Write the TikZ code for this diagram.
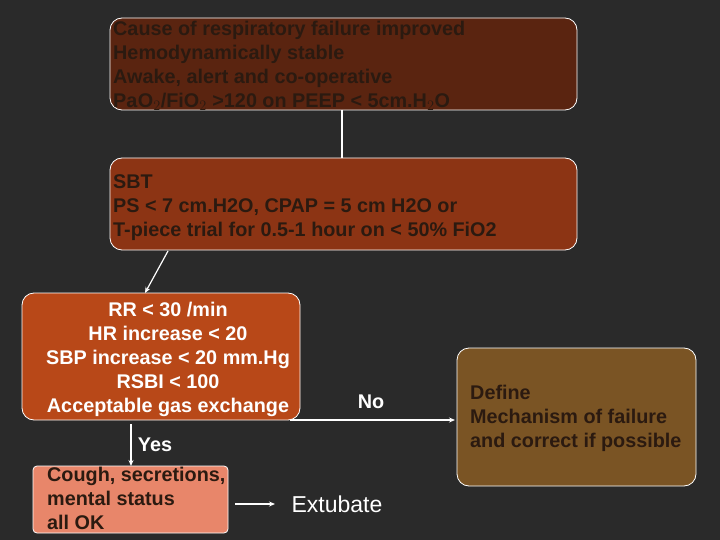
\documentclass[tikz,border=0pt]{standalone}
\usepackage{fontspec}
\setmainfont{Liberation Sans}
\usetikzlibrary{arrows.meta}
\definecolor{bg}{HTML}{2A2A2A}
\definecolor{c1}{HTML}{5A2410}
\definecolor{c2}{HTML}{8C3414}
\definecolor{c3}{HTML}{B84818}
\definecolor{c4}{HTML}{7A5424}
\definecolor{c5}{HTML}{E8866A}
\definecolor{dk}{HTML}{2B1A10}
\tikzset{
 box/.style={draw=white, line width=0.8pt, rounded corners=12pt, inner sep=3pt},
 txt/.style={font=\bfseries\fontsize{19.8}{24}\selectfont, text=dk, align=left, inner sep=0pt},
 conn/.style={draw=white, line width=1.2pt},
 arr/.style={conn, -{Stealth[length=6pt,width=5pt]}}
}
\begin{document}
\begin{tikzpicture}[x=1pt,y=-1pt]
\fill[bg] (0,0) rectangle (720,540);
\useasboundingbox (0,0) rectangle (720,540);
\node[box, fill=c1, minimum width=467pt, minimum height=92pt] (a) at (343.5,64) {};
\node[txt, anchor=north west] (at) at (113,21) {Cause of respiratory failure improved\\Hemodynamically stable\\Awake, alert and co-operative\\Pa\kern0.5ptO$_2$/FiO$_2$ >120 on PEEP < 5cm.H$_2$O};
\node[box, fill=c2, minimum width=467pt, minimum height=92pt] (b) at (343.5,204) {};
\node[txt, anchor=north west] (bt) at (113,174) {SBT\\PS < 7 cm.H2O, CPAP = 5 cm H2O or\\T-piece trial for 0.5-1 hour on < 50\% FiO2};
\node[box, fill=c3, minimum width=278pt, minimum height=127pt] (c) at (161,356.5) {};
\node[txt, text=white, align=center, anchor=north] (ct) at (168,302) {RR < 30 /min\\HR increase < 20\\SBP increase < 20 mm.Hg\\RSBI < 100\\Acceptable gas exchange};
\node[box, fill=c4, minimum width=239pt, minimum height=138pt] (d) at (576.5,417) {};
\node[txt, anchor=north west] (dt) at (470,385) {Define\\Mechanism of failure\\and correct if possible};
\node[box, fill=c5, rounded corners=4pt, minimum width=195pt, minimum height=67pt] (e) at (130.5,499.5) {};
\node[txt, anchor=north west] (et) at (47,467) {Cough, secretions,\\mental status\\all OK};
\node[font=\fontsize{23}{26}\selectfont, text=white, inner sep=0pt] (x) at (337,504) {Extubate};
\node[font=\bfseries\fontsize{19.8}{22}\selectfont, text=white, inner sep=0pt] (no) at (371,402) {No};
\node[font=\bfseries\fontsize{19.8}{22}\selectfont, text=white, inner sep=0pt] (yes) at (155,445) {Yes};
\coordinate (a1) at (342,110); \coordinate (b1) at (342,158);
\draw[conn] (a1) -- (b1);
\coordinate (b2) at (168,251); \coordinate (c1p) at (145,293);
\draw[arr] (b2) -- (c1p);
\coordinate (c2p) at (290,420); \coordinate (d1) at (455,420);
\draw[arr] (c2p) -- (d1);
\coordinate (c3p) at (131,424); \coordinate (e1) at (131,466);
\draw[arr] (c3p) -- (e1);
\coordinate (e2) at (235,504); \coordinate (x1) at (275,504);
\draw[arr] (e2) -- (x1);
\end{tikzpicture}
\end{document}
